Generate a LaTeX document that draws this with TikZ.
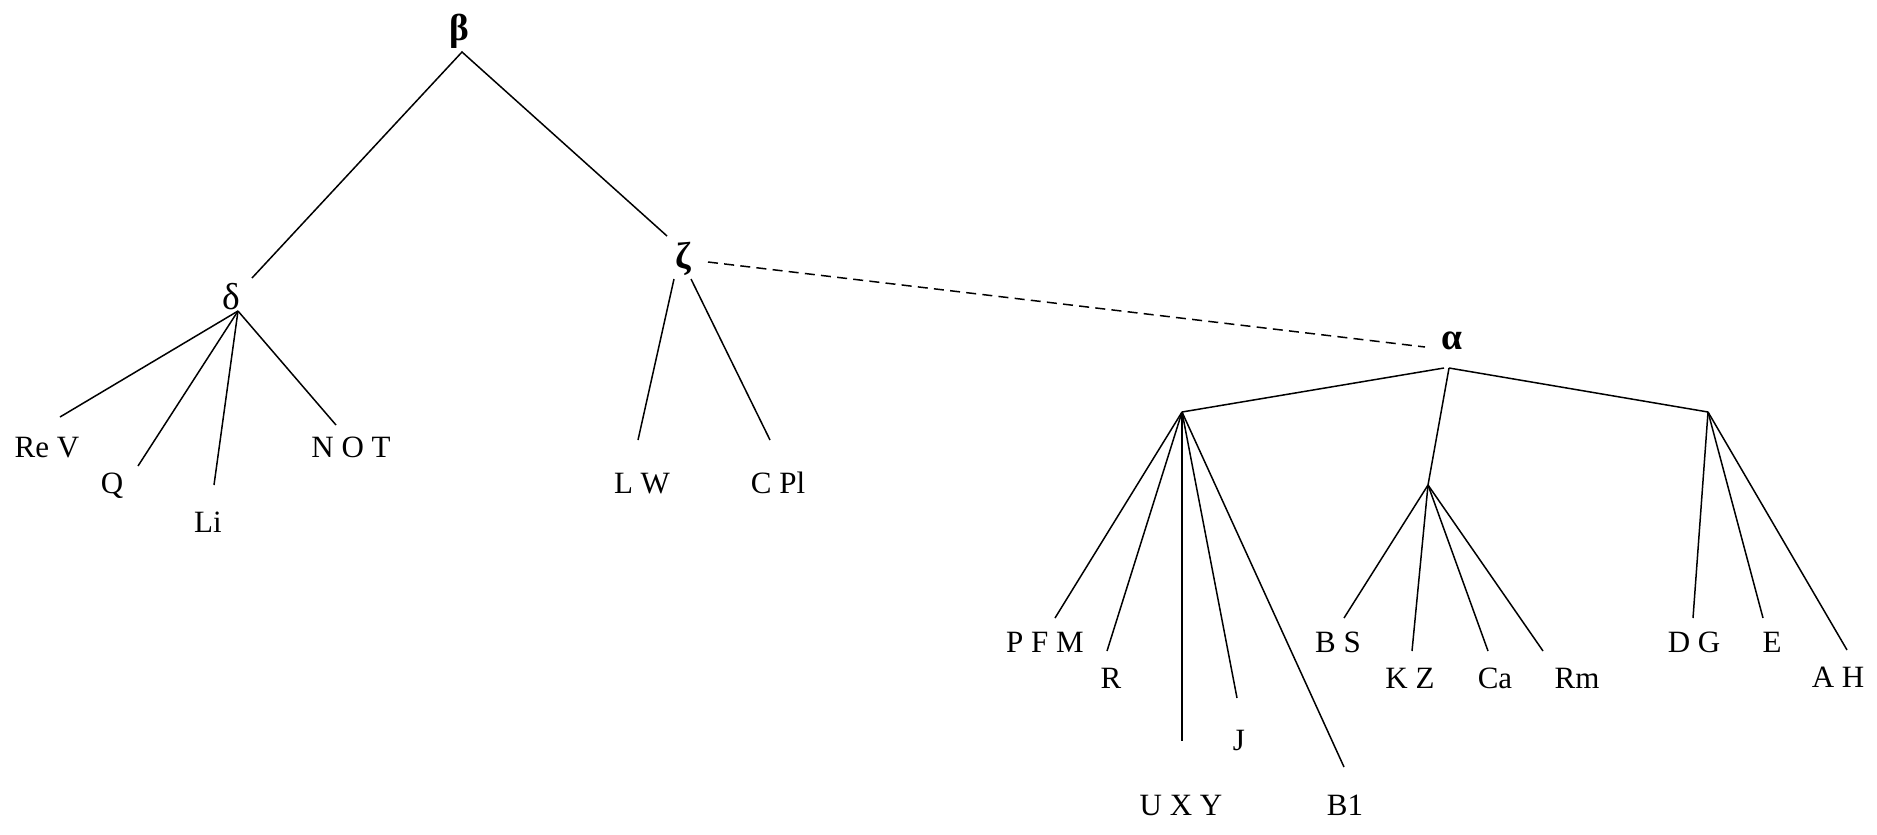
\documentclass[tikz,border=0pt]{standalone}
\usepackage{fontspec}
\setmainfont{Liberation Serif}
\begin{document}
\begin{tikzpicture}[x=0.4pt,y=-0.4pt,
  lbl/.style={inner sep=0pt, anchor=base, font=\fontsize{12.4}{14}\selectfont},
  grk/.style={inner sep=0pt, font=\fontsize{15}{17}\selectfont},
  edge/.style={line width=0.6pt},
  link/.style={line width=0.6pt, dash pattern=on 4pt off 2.5pt}]
\useasboundingbox (0,0) rectangle (1877,834);

% inner nodes
\node[grk] (beta)  at (459,31)  {\textbf{β}};
\node[grk] (delta) at (231,297) {δ};
\node[grk] (zeta)  at (683,259) {\textbf{ζ}};
\node[grk] (alpha) at (1452,341) {\textbf{α}};

% branch points
\coordinate (betaB) at (462,52);
\coordinate (deltaB) at (238,311);
\coordinate (zetaL) at (674,279);
\coordinate (zetaR) at (691,279);
\coordinate (zetaD) at (708,262);
\coordinate (alphaL) at (1444,368);
\coordinate (alphaB) at (1449,368);
\coordinate (alphaD) at (1425,347);
\coordinate (hubA) at (1182,412);
\coordinate (hubB) at (1428,485);
\coordinate (hubC) at (1708,412);
\coordinate (deltaT) at (252,278);
\coordinate (zetaT) at (667,236);

% leaf labels
\node[lbl] (reV) at (47,457)  {Re V};
\node[lbl] (q)   at (112,493) {Q};
\node[lbl] (li)  at (208,532) {Li};
\node[lbl] (not) at (351,457) {N O T};
\node[lbl] (lw)  at (642,493) {L W};
\node[lbl] (cpl) at (778,493) {C Pl};
\node[lbl] (pfm) at (1045,652) {P F M};
\node[lbl] (r)   at (1111,688) {R};
\node[lbl] (uxy) at (1181,815) {U X Y};
\node[lbl] (j)   at (1239,750) {J};
\node[lbl] (bone) at (1345,815) {B1};
\node[lbl] (bs)  at (1338,652) {B S};
\node[lbl] (kz)  at (1410,688) {K Z};
\node[lbl] (ca)  at (1495,688) {Ca};
\node[lbl] (rm)  at (1577,688) {Rm};
\node[lbl] (dg)  at (1694,652) {D G};
\node[lbl] (e)   at (1772,652) {E};
\node[lbl] (ah)  at (1838,687) {A H};

% ends of the leaf edges
\coordinate (reVT) at (60,417);
\coordinate (qT)   at (138,466);
\coordinate (liT)  at (214,485);
\coordinate (notT) at (336,425);
\coordinate (lwT)  at (638,440);
\coordinate (cplT) at (770,440);
\coordinate (pfmT) at (1055,618);
\coordinate (rT)   at (1107,651);
\coordinate (uxyT) at (1182,741);
\coordinate (jT)   at (1237,698);
\coordinate (boneT) at (1344,767);
\coordinate (bsT)  at (1344,618);
\coordinate (kzT)  at (1412,651);
\coordinate (caT)  at (1488,651);
\coordinate (rmT)  at (1543,651);
\coordinate (dgT)  at (1693,618);
\coordinate (eT)   at (1763,618);
\coordinate (ahT)  at (1847,650);

% edges
\draw[edge] (deltaT) -- (betaB) -- (zetaT);
\foreach \t in {reVT,qT,liT,notT} \draw[edge] (deltaB) -- (\t);
\draw[edge] (zetaL) -- (lwT);
\draw[edge] (zetaR) -- (cplT);
\draw[link] (zetaD) -- (alphaD);
\draw[edge] (alphaL) -- (hubA);
\draw[edge] (alphaB) -- (hubB);
\draw[edge] (alphaB) -- (hubC);
\foreach \t in {pfmT,rT,uxyT,jT,boneT} \draw[edge] (hubA) -- (\t);
\foreach \t in {bsT,kzT,caT,rmT} \draw[edge] (hubB) -- (\t);
\foreach \t in {dgT,eT,ahT} \draw[edge] (hubC) -- (\t);
\end{tikzpicture}
\end{document}
